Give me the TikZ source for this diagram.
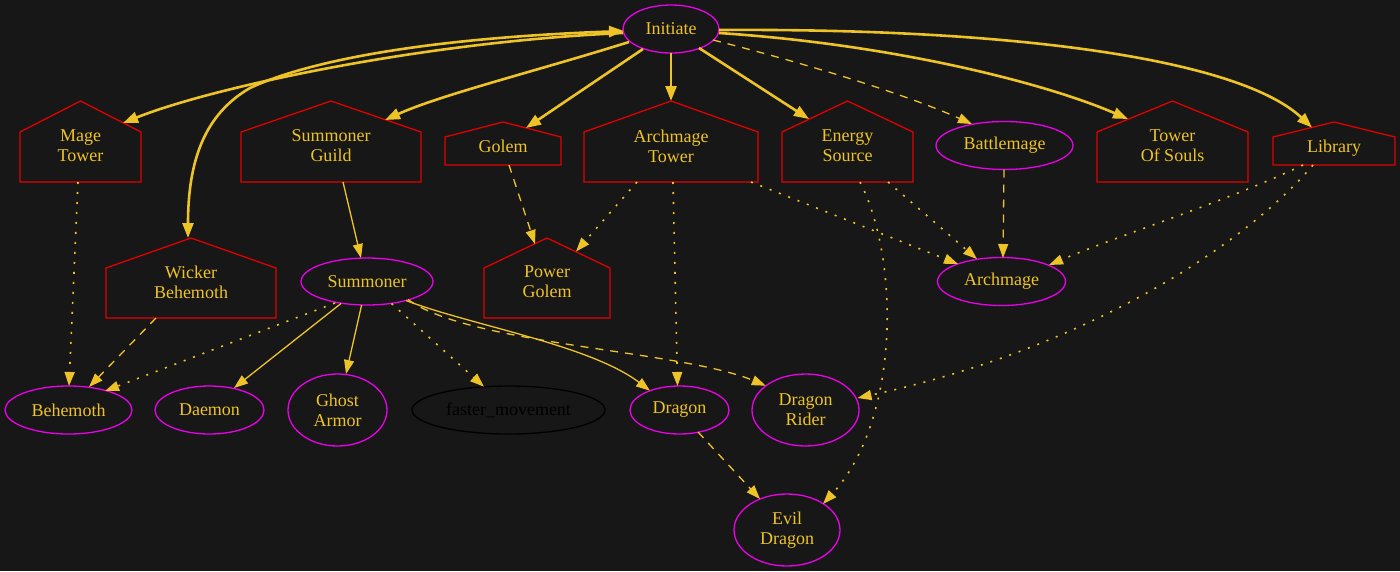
\documentclass[tikz,border=0pt]{standalone}
\usepackage{fontspec}
\setmainfont{Liberation Serif}
\usetikzlibrary{shapes.geometric,arrows.meta,calc}

\definecolor{bgc}{RGB}{23,23,23}
\definecolor{gold}{RGB}{238,195,40}
\definecolor{mag}{RGB}{235,0,235}
\definecolor{housered}{RGB}{225,0,0}

\tikzset{
  lbl/.style={font=\fontsize{18}{20}\selectfont, text=gold, align=center, inner sep=0pt},
  oval/.style={lbl, ellipse, draw=mag, line width=1.3pt},
  blackoval/.style={lbl, ellipse, draw=black, text=black, line width=1.3pt},
  houseline/.style={draw=housered, line width=1.3pt, line join=miter},
  housetext/.style={lbl},
  thickedge/.style={draw=gold, line width=2.6pt, -{Triangle[length=15pt,width=11pt]}},
  thickboth/.style={draw=gold, line width=2.6pt, {Triangle[length=15pt,width=11pt]}-{Triangle[length=15pt,width=11pt]}},
  thinedge/.style={draw=gold, line width=1.3pt, -{Triangle[length=14pt,width=10pt]}},
  dashline/.style={dash pattern=on 8pt off 7pt},
  dotline/.style={line width=1.6pt, dash pattern=on 2pt off 8pt},
}

% house outline: left, right, peak, shoulder, bottom
\newcommand\houseoutline[5]{%
  \draw[houseline] (#1,#5) -- (#2,#5) -- (#2,#4) -- ({(#1+#2)/2},#3) -- (#1,#4) -- cycle;}

\begin{document}
\begin{tikzpicture}[x=1pt,y=-1pt]
\useasboundingbox (0,0) rectangle (1400,571);
\fill[bgc] (0,0) rectangle (1400,571);

% houses
\houseoutline{20}{141}{101}{132}{182}
\houseoutline{241}{421}{101}{132}{182}
\houseoutline{445}{561}{122}{137}{165}
\houseoutline{584}{758}{101}{132}{182}
\houseoutline{782}{913}{101}{132}{182}
\houseoutline{1097}{1248}{101}{132}{182}
\houseoutline{1273}{1395}{122}{137}{165}
\houseoutline{106}{276}{238}{268}{318}
\houseoutline{484}{610}{238}{268}{318}

\node[housetext] (mage)    at (80.5,146)  {Mage\\Tower};
\node[housetext] (guild)   at (331,146)   {Summoner\\Guild};
\node[housetext] (golem)   at (503,146)   {Golem};
\node[housetext] (atower)  at (671,146)   {Archmage\\Tower};
\node[housetext] (energy)  at (847.5,146) {Energy\\Source};
\node[housetext] (souls)   at (1172.5,146){Tower\\Of Souls};
\node[housetext] (library) at (1334,148)  {Library};
\node[housetext] (wicker)  at (191,282)   {Wicker\\Behemoth};
\node[housetext] (pgolem)  at (547,282)   {Power\\Golem};

% ellipses
\node[oval, minimum width=96pt,  minimum height=48pt] (init)     at (671,29)      {Initiate};
\node[oval, minimum width=137pt, minimum height=48pt] (battle)   at (1004.5,145.5){Battlemage};
\node[oval, minimum width=132pt, minimum height=47pt] (summoner) at (367,281.5)   {Summoner};
\node[oval, minimum width=128pt, minimum height=48pt] (archmage) at (1001.5,281.5){Archmage};
\node[oval, minimum width=127pt, minimum height=48pt] (behemoth) at (68.5,410)    {Behemoth};
\node[oval, minimum width=109pt, minimum height=48pt] (daemon)   at (209.5,410)   {Daemon};
\node[oval, minimum width=99pt,  minimum height=72pt] (ghost)    at (337.5,410)   {Ghost\\Armor};
\node[blackoval, minimum width=193pt, minimum height=48pt] (faster) at (508.5,410) {faster\_movement};
\node[oval, minimum width=99pt,  minimum height=48pt] (dragon)   at (679.5,410)   {Dragon};
\node[oval, minimum width=107pt, minimum height=72pt] (rider)    at (805.5,410)   {Dragon\\Rider};
\node[oval, minimum width=106pt, minimum height=72pt] (evil)     at (787,530)     {Evil\\Dragon};

% edges leaving Initiate
\draw[thickedge] ($(init)+(-48,4)$) .. controls (420,42) and (210,88) .. ($(mage)+(42.5,-23)$);
\draw[thickboth] ($(init)+(-47,2)$) .. controls (430,38) and (310,60) .. (250,88)
                 .. controls (205,114) and (188,160) .. ($(wicker)+(-3,-44)$);
\draw[thickedge] ($(init)+(-42,13)$) .. controls (540,70) and (440,95) .. ($(guild)+(54,-26)$);
\draw[thickedge] ($(init)+(-28,20)$) -- ($(golem)+(23,-18)$);
\draw[thickedge] ($(init)+(0,24)$) -- ($(atower)+(0,-45)$);
\draw[thickedge] ($(init)+(28,19)$) -- ($(energy)+(-38.5,-27)$);
\draw[thinedge,dashline] ($(init)+(42,11)$) .. controls (800,62) and (900,92) .. ($(battle)+(-32.5,-21.5)$);
\draw[thickedge] ($(init)+(48,4)$) .. controls (900,45) and (1050,85) .. ($(souls)+(-44.5,-27)$);
\draw[thickedge] ($(init)+(48,1)$) .. controls (1020,28) and (1240,60) .. ($(library)+(-22,-20.5)$);

% edges between buildings and units
\draw[thinedge,dotline]  ($(mage)+(-2.5,36)$) -- ($(behemoth)+(0.5,-24)$);
\draw[thinedge,dashline] ($(wicker)+(-35,36)$) -- ($(behemoth)+(20.5,-23)$);
\draw[thinedge]          ($(guild)+(12,36)$) -- ($(summoner)+(-6,-23.5)$);
\draw[thinedge,dashline] ($(golem)+(6,19)$) -- ($(pgolem)+(-12,-38)$);
\draw[thinedge,dotline]  ($(atower)+(-34,36)$) -- ($(pgolem)+(29,-30.5)$);
\draw[thinedge,dotline]  ($(atower)+(2,36)$) -- ($(dragon)+(-2,-24)$);
\draw[thinedge,dotline]  ($(atower)+(80,36)$) -- ($(archmage)+(-43.5,-17.5)$);
\draw[thinedge,dotline]  ($(energy)+(40.5,36)$) -- ($(archmage)+(-24.5,-22.5)$);
\draw[thinedge,dotline]  ($(energy)+(12.5,36)$) .. controls (900,260) and (900,420) .. ($(evil)+(36,-26)$);
\draw[thinedge,dashline] ($(battle)+(-0.5,24)$) -- ($(archmage)+(1.5,-23.5)$);
\draw[thinedge,dotline]  ($(library)+(-31,17)$) .. controls (1230,200) and (1120,235) .. ($(archmage)+(47.5,-16.5)$);
\draw[thinedge,dotline]  ($(library)+(-21,17)$) .. controls (1240,250) and (1080,350) .. ($(rider)+(52,-12)$);

% edges leaving Summoner
\draw[thinedge,dotline]  ($(summoner)+(-32,21.5)$) -- ($(behemoth)+(36.5,-19)$);
\draw[thinedge]          ($(summoner)+(-26,22)$) -- ($(daemon)+(24.5,-22)$);
\draw[thinedge]          ($(summoner)+(-5.4,23.5)$) -- ($(ghost)+(8.5,-36)$);
\draw[thinedge,dotline]  ($(summoner)+(24.5,22)$) -- ($(faster)+(-24.5,-23.3)$);
\draw[thinedge]          ($(summoner)+(39,19)$) .. controls (470,325) and (590,345) .. ($(dragon)+(-29.5,-19.3)$);
\draw[thinedge,dashline] ($(summoner)+(41,18)$) .. controls (470,345) and (680,350) .. ($(rider)+(-39.7,-24.3)$);

\draw[thinedge,dashline] ($(dragon)+(18.5,22)$) -- ($(evil)+(-27,-31)$);
\end{tikzpicture}
\end{document}
